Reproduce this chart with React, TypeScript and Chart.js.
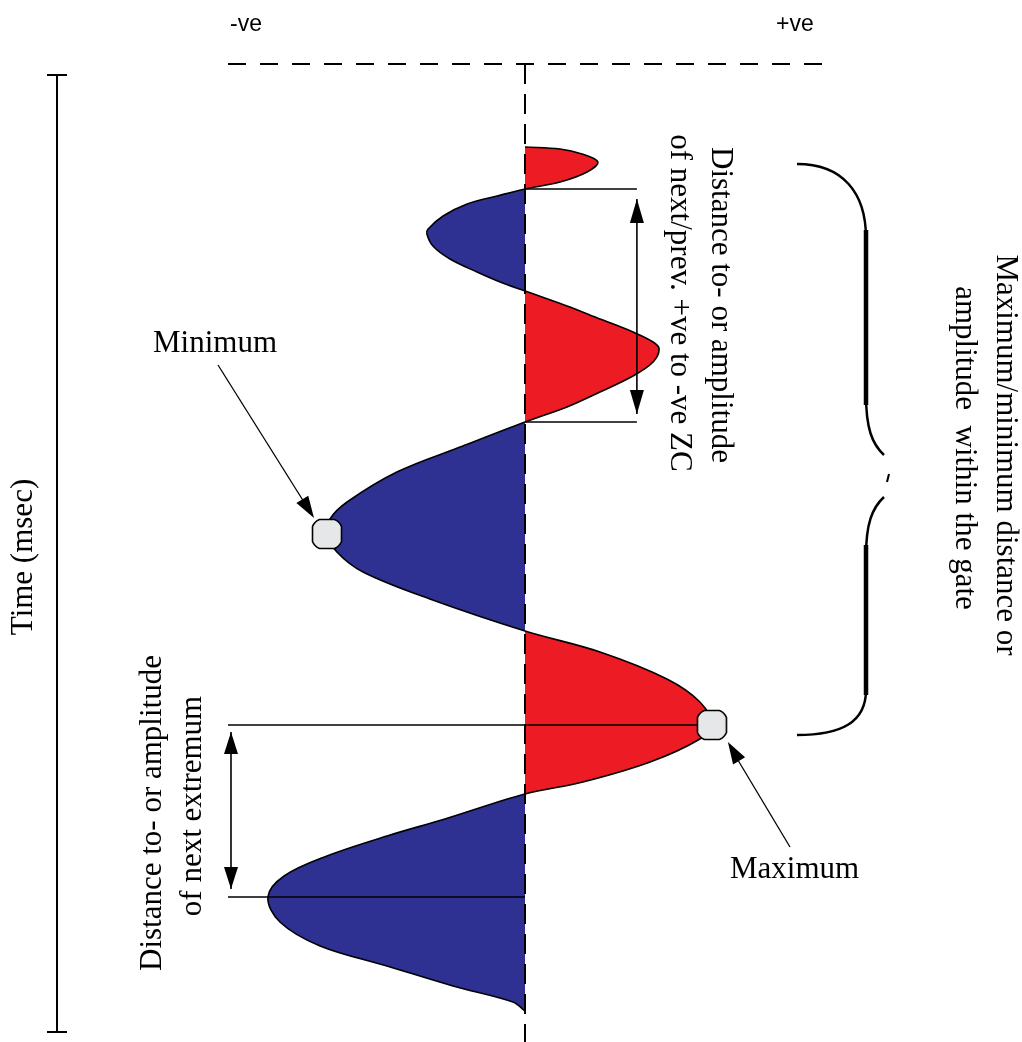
import React, { useEffect, useRef } from "react";
import { Chart, registerables } from "chart.js";

Chart.register(...registerables);

// Time (ms, increasing downwards) and trace amplitude (-1 = "-ve" edge, +1 = "+ve" edge)
const timeMs = [
  83, 85, 90, 98, 108, 118, 125,
  132, 140, 152, 165, 170, 182, 195, 208, 218, 227,
  242, 255, 268, 278, 285, 298, 312, 328, 343, 358,
  382, 408, 438, 455, 470, 488, 508, 535, 567,
  588, 615, 638, 661, 675, 698, 718, 730,
  755, 772, 792, 812, 833, 858, 882, 902, 922, 938, 947,
];
const amplitude = [
  0, 0.117, 0.19, 0.243, 0.207, 0.117, 0,
  -0.093, -0.193, -0.273, -0.323, -0.327, -0.307, -0.25, -0.16, -0.083, 0,
  0.14, 0.25, 0.36, 0.427, 0.447, 0.427, 0.36, 0.25, 0.14, 0,
  -0.207, -0.427, -0.593, -0.65, -0.66, -0.627, -0.54, -0.317, 0,
  0.25, 0.473, 0.583, 0.623, 0.583, 0.417, 0.193, 0,
  -0.267, -0.46, -0.66, -0.803, -0.857, -0.817, -0.683, -0.46, -0.24, -0.04, 0,
];
const extremaTime = [470, 661];
const extremaAmplitude = [-0.66, 0.623];
const polarityLabels = ["-ve", "+ve"];
const timeAxisLabel = "Time (msec)";
const extremaLabels = ["Minimum", "Maximum"];
const zcNote = ["Distance to- or amplitude", "of next/prev. +ve to -ve ZC"];
const extNote = ["Distance to- or amplitude", "of next extremum"];
const gateNote = ["Maximum/minimum distance or", "amplitude  within the gate"];

const RED = "#ED1C24";
const BLUE = "#2E3192";
const SERIF = "'Liberation Serif', 'Times New Roman', serif";

function arrowHead(ctx: CanvasRenderingContext2D, tipX: number, tipY: number, fromX: number, fromY: number, len: number, hw: number) {
  const ang = Math.atan2(tipY - fromY, tipX - fromX);
  ctx.save();
  ctx.translate(tipX, tipY);
  ctx.rotate(ang);
  ctx.beginPath();
  ctx.moveTo(0, 0);
  ctx.lineTo(-len, -hw);
  ctx.lineTo(-len, hw);
  ctx.closePath();
  ctx.fill();
  ctx.restore();
}

function line(ctx: CanvasRenderingContext2D, x1: number, y1: number, x2: number, y2: number) {
  ctx.beginPath();
  ctx.moveTo(x1, y1);
  ctx.lineTo(x2, y2);
  ctx.stroke();
}

function rotText(ctx: CanvasRenderingContext2D, text: string, x: number, y: number, angle: number) {
  ctx.save();
  ctx.translate(x, y);
  ctx.rotate(angle);
  ctx.textAlign = "center";
  ctx.textBaseline = "middle";
  ctx.fillText(text, 0, 0);
  ctx.restore();
}

function makeMarker(): HTMLCanvasElement {
  const c = document.createElement("canvas");
  c.width = 32;
  c.height = 32;
  const g = c.getContext("2d") as CanvasRenderingContext2D;
  const s = 29, o = 1.5, k = 7;
  g.beginPath();
  g.moveTo(o + k, o);
  g.lineTo(o + s - k, o);
  g.quadraticCurveTo(o + s - 2, o + 2, o + s, o + k);
  g.lineTo(o + s, o + s - k);
  g.quadraticCurveTo(o + s - 2, o + s - 2, o + s - k, o + s);
  g.lineTo(o + k, o + s);
  g.quadraticCurveTo(o + 2, o + s - 2, o, o + s - k);
  g.lineTo(o, o + k);
  g.quadraticCurveTo(o + 2, o + 2, o + k, o);
  g.closePath();
  g.fillStyle = "#E6E7E8";
  g.fill();
  g.lineWidth = 1.6;
  g.strokeStyle = "#000";
  g.stroke();
  return c;
}

const diagramPlugin = {
  id: "diagram",
  afterDatasetDraw(chart: any, args: any) {
    if (args.index !== 0) return;
    const ctx: CanvasRenderingContext2D = chart.ctx;
    const xs = chart.scales.x;
    const ys = chart.scales.y;
    const px = (a: number) => xs.getPixelForValue(a);
    const py = (t: number) => ys.getPixelForValue(t);
    const area = chart.chartArea;
    ctx.save();
    ctx.strokeStyle = "#000";
    ctx.fillStyle = "#000";
    // zero line (dashed)
    ctx.lineWidth = 2;
    ctx.setLineDash([20, 10]);
    line(ctx, px(0), py(0), px(0), area.bottom);
    // top dashed baseline
    ctx.setLineDash([18, 14]);
    line(ctx, px(-0.99), py(0), px(1), py(0));
    ctx.setLineDash([]);
    ctx.lineWidth = 1.6;
    // zero-crossing brackets
    const zc1 = py(timeMs[6]);
    const zc2 = py(timeMs[26]);
    line(ctx, px(0), zc1, px(0.373), zc1);
    line(ctx, px(0), zc2, px(0.373), zc2);
    const ax = px(0.373);
    line(ctx, ax, zc1 + 10, ax, zc2 - 8);
    arrowHead(ctx, ax, zc1 + 10, ax, zc2, 24, 7);
    arrowHead(ctx, ax, zc2 - 8, ax, zc1, 24, 7);
    // extremum brackets
    const e1 = py(extremaTime[1]);
    const e2 = py(timeMs[48]);
    line(ctx, px(-0.99), e1, px(extremaAmplitude[1]) - 14, e1);
    line(ctx, px(-0.99), e2, px(0), e2);
    const bx = px(-0.98);
    line(ctx, bx, e1 + 7, bx, e2 - 8);
    arrowHead(ctx, bx, e1 + 7, bx, e2, 22, 7);
    arrowHead(ctx, bx, e2 - 8, bx, e1, 22, 7);
    ctx.restore();
  },
  afterDraw(chart: any) {
    const ctx: CanvasRenderingContext2D = chart.ctx;
    const xs = chart.scales.x;
    const ys = chart.scales.y;
    const px = (a: number) => xs.getPixelForValue(a);
    const py = (t: number) => ys.getPixelForValue(t);
    ctx.save();
    ctx.strokeStyle = "#000";
    ctx.fillStyle = "#000";
    // polarity labels
    ctx.font = "23px 'Liberation Sans', sans-serif";
    ctx.textBaseline = "alphabetic";
    ctx.textAlign = "left";
    ctx.fillText(polarityLabels[0], 230, 31);
    ctx.fillText(polarityLabels[1], 776, 31);
    // time axis
    ctx.lineWidth = 2;
    line(ctx, 57, 75, 57, 1032);
    line(ctx, 47, 75, 67, 75);
    line(ctx, 47, 1032, 67, 1032);
    ctx.font = "31px " + SERIF;
    rotText(ctx, timeAxisLabel, 24, 557, -Math.PI / 2);
    // extrema labels + arrows
    ctx.textAlign = "left";
    ctx.textBaseline = "alphabetic";
    ctx.fillText(extremaLabels[0], 153, 352);
    ctx.fillText(extremaLabels[1], 730, 878);
    ctx.lineWidth = 1.3;
    const m1x = px(extremaAmplitude[0]) - 13, m1y = py(extremaTime[0]) - 16;
    line(ctx, 218, 365, m1x - 5, m1y - 8);
    arrowHead(ctx, m1x, m1y, 218, 365, 22, 7);
    const m2x = px(extremaAmplitude[1]) + 16, m2y = py(extremaTime[1]) + 17;
    line(ctx, 790, 847, m2x + 4, m2y + 8);
    arrowHead(ctx, m2x, m2y, 790, 847, 22, 7);
    // rotated notes
    rotText(ctx, zcNote[0], 720, 305, Math.PI / 2);
    rotText(ctx, zcNote[1], 679, 303, Math.PI / 2);
    rotText(ctx, extNote[0], 153, 813, -Math.PI / 2);
    rotText(ctx, extNote[1], 193, 806, -Math.PI / 2);
    rotText(ctx, gateNote[0], 1005, 455, Math.PI / 2);
    rotText(ctx, gateNote[1], 964, 448, Math.PI / 2);
    // brace
    ctx.lineWidth = 2.5;
    ctx.beginPath();
    ctx.moveTo(797, 164);
    ctx.bezierCurveTo(842, 164, 866, 192, 866, 238);
    ctx.lineTo(866, 395);
    ctx.bezierCurveTo(866, 428, 872, 444, 884, 455);
    ctx.stroke();
    ctx.beginPath();
    ctx.moveTo(884, 497);
    ctx.bezierCurveTo(872, 508, 866, 524, 866, 556);
    ctx.lineTo(866, 690);
    ctx.bezierCurveTo(866, 722, 842, 735, 797, 735);
    ctx.stroke();
    ctx.lineWidth = 4.5;
    line(ctx, 866, 230, 866, 405);
    line(ctx, 866, 545, 866, 695);
    ctx.lineWidth = 2;
    line(ctx, 889, 474, 887, 482);
    ctx.restore();
  },
};

export default function App() {
  const canvasRef = useRef<HTMLCanvasElement | null>(null);

  useEffect(() => {
    const canvas = canvasRef.current;
    if (!canvas) return;
    const trace = timeMs.map((t, i) => ({ x: amplitude[i], y: t }));
    const extrema = extremaTime.map((t, i) => ({ x: extremaAmplitude[i], y: t }));
    const marker = makeMarker();
    const chart = new Chart(canvas, {
      type: "line",
      data: {
        datasets: [
          {
            label: "trace",
            data: trace,
            borderColor: "#000",
            borderWidth: 1.6,
            pointRadius: 0,
            tension: 0.35,
            fill: { target: { value: 0 } },
            backgroundColor: (c: any) => {
              const ch = c.chart;
              const a = ch.chartArea;
              const sx = ch.scales && ch.scales.x;
              if (!a || !sx) return BLUE;
              const g = ch.ctx.createLinearGradient(a.left, 0, a.right, 0);
              const z = (sx.getPixelForValue(0) - a.left) / (a.right - a.left);
              g.addColorStop(0, BLUE);
              g.addColorStop(z, BLUE);
              g.addColorStop(z, RED);
              g.addColorStop(1, RED);
              return g;
            },
            order: 2,
          } as any,
          {
            label: "extrema",
            data: extrema,
            showLine: false,
            fill: false,
            pointStyle: marker,
            pointRadius: 16,
            pointBackgroundColor: "#E6E7E8",
            pointBorderColor: "#000",
            pointBorderWidth: 1.5,
            order: 1,
          } as any,
        ],
      },
      options: {
        indexAxis: "y",
        animation: false,
        responsive: false,
        events: [],
        layout: { autoPadding: false, padding: { left: 225, right: 197, top: 64, bottom: 0 } },
        scales: {
          x: { type: "linear", min: -1, max: 1, display: false },
          y: { type: "linear", min: 0, max: 978, reverse: true, display: false },
        },
        plugins: { legend: { display: false }, tooltip: { enabled: false } },
      } as any,
      plugins: [diagramPlugin],
    });
    return () => chart.destroy();
  }, []);

  return (
    <div style={{ position: "absolute", left: 0, top: 0, width: 1022, height: 1042, background: "#fff" }}>
      <canvas ref={canvasRef} width={1022} height={1042} style={{ display: "block" }} />
    </div>
  );
}
